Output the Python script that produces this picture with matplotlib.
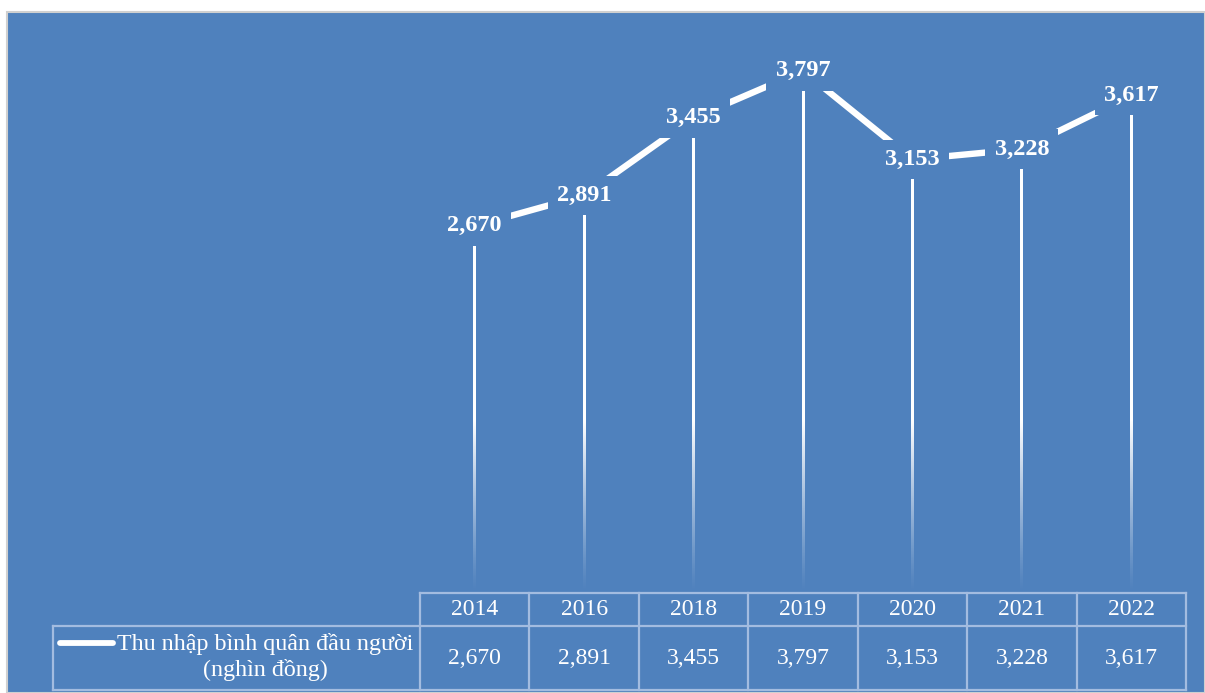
import numpy as np
import matplotlib
matplotlib.use("Agg")
import matplotlib.pyplot as plt
from matplotlib.patches import Rectangle
from matplotlib.lines import Line2D

# Data
years = ["2014", "2016", "2018", "2019", "2020", "2021", "2022"]
income = [2670, 2891, 3455, 3797, 3153, 3228, 3617]
series_label = "Thu nhập bình quân đầu người\n(nghìn đồng)"

BG = "#4F81BD"
GRID = "#A3BCE0"
SERIF = ["Liberation Serif", "DejaVu Serif"]

W, H = 1205, 693
fig = plt.figure(figsize=(W / 100, H / 100), dpi=100, facecolor="white")

# Chart area background with thin grey border
fig.patches.append(Rectangle((7 / W, 0), 1 - 7 / W, (H - 12) / H,
                             transform=fig.transFigure, facecolor=BG,
                             edgecolor="#D0D0D0", linewidth=1.5, zorder=-10))

ax = fig.add_axes([420 / W, 100 / H, 766 / W, 550 / H])
ax.set_facecolor("none")
ax.axis("off")

x = np.arange(len(years))
col_px = 766 / len(years)

# Drop lines fading out toward the category axis (vertical gradient strips)
half_w = 1.5 / col_px
for xi, yi in zip(x, income):
    ys = np.linspace(yi, 0, 400)
    a = np.clip(ys / 1250.0, 0, 1) ** 1.2
    rgba = np.ones((len(ys), 1, 4))
    rgba[:, 0, 3] = a
    ax.imshow(rgba, extent=(xi - half_w, xi + half_w, 0, yi), aspect="auto",
              interpolation="bilinear", zorder=2)
ax.set_xlim(-0.5, len(years) - 0.5)
ax.set_ylim(0, 4000)

# Main series line
ax.plot(x, income, color="white", linewidth=4.6, zorder=3,
        solid_capstyle="butt")

# Data labels centered on the points
for xi, yi in zip(x, income):
    ax.text(xi, yi, f"{yi:,}", ha="center", va="center", color="white",
            fontsize=17.5, fontweight="bold", family=SERIF, zorder=5,
            bbox=dict(boxstyle="square,pad=0.38", facecolor=BG,
                      edgecolor="none"))

# Data table below the plot
tr = ax.get_xaxis_transform()
h1 = 33 / 550
h2 = 64 / 550
label_left = -0.5 - 367 / col_px
tbl_kw = dict(transform=tr, color=GRID, linewidth=1.6, clip_on=False,
              zorder=4)

ax.add_line(Line2D([-0.5, len(years) - 0.5], [0, 0], **tbl_kw))
ax.add_line(Line2D([label_left, len(years) - 0.5], [-h1, -h1], **tbl_kw))
ax.add_line(Line2D([label_left, len(years) - 0.5], [-h1 - h2, -h1 - h2],
                   **tbl_kw))
for b in np.arange(len(years) + 1) - 0.5:
    ax.add_line(Line2D([b, b], [0, -h1 - h2], **tbl_kw))
ax.add_line(Line2D([label_left, label_left], [-h1, -h1 - h2], **tbl_kw))

for xi, yr, v in zip(x, years, income):
    ax.text(xi, -h1 / 2, yr, transform=tr, ha="center", va="center",
            color="white", fontsize=17, family=SERIF, clip_on=False)
    ax.text(xi, -h1 - h2 / 2, f"{v:,}", transform=tr, ha="center",
            va="center", color="white", fontsize=17, family=SERIF,
            clip_on=False)

# Legend key and series name in the label cell
ax.add_line(Line2D([label_left + 7 / col_px, label_left + 60 / col_px],
                   [-h1 - 17 / 550, -h1 - 17 / 550], transform=tr,
                   color="white", linewidth=4.2, solid_capstyle="round",
                   clip_on=False, zorder=5))
ax.text(label_left + (265 - 53) / col_px, -h1 - h2 / 2 + 1 / 550,
        series_label, transform=tr, ha="center", va="center",
        multialignment="center", color="white", fontsize=17.3,
        family=SERIF, linespacing=1.18, clip_on=False)

fig.savefig("out.png", dpi=100, facecolor="white")
